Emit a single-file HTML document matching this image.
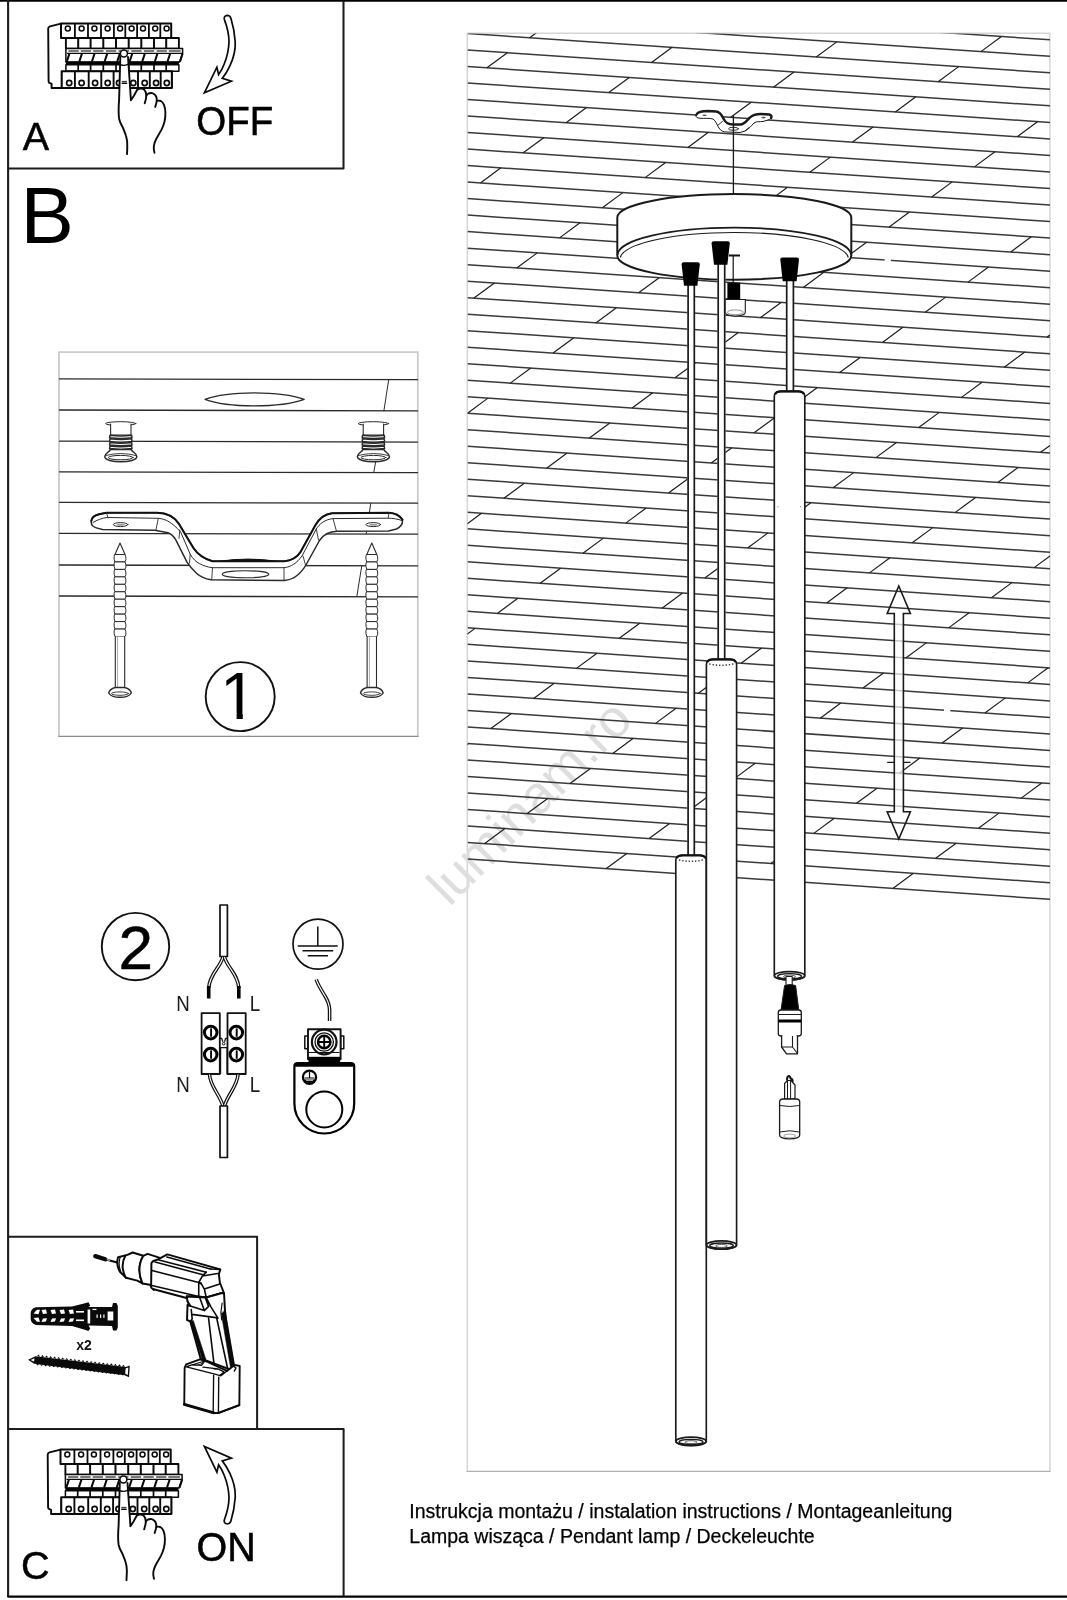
<!DOCTYPE html>
<html lang="pl"><head><meta charset="utf-8"><title>Instrukcja montażu</title>
<style>
html,body{margin:0;padding:0;background:#fff;}
body{width:1067px;height:1600px;overflow:hidden;position:relative;}
svg{position:absolute;left:0;top:0;display:block;}
text{font-family:"Liberation Sans",Arial,sans-serif;fill:#000;}
</style></head><body>
<svg width="1067" height="1600" viewBox="0 0 1067 1600">
<rect width="1067" height="1600" fill="#fff"/>
<g style="will-change:transform">
<g fill="none" stroke="#1d1d1d" stroke-linejoin="round">
<path d="M0 0.8H1067" stroke="#000" stroke-width="1.9"/>
<path d="M8.1 0V1597" stroke-width="2.1"/>
<path d="M7.5 1596.7H1067" stroke="#000" stroke-width="2.3"/>
<path d="M8 168.4H343.5V1" stroke-width="2.05"/>
<path d="M8 1236.8H257.1V1428.9" stroke-width="2"/>
<path d="M8 1428.9H343.6V1596" stroke-width="2.05"/>
</g>
<path d="M59 736.3V352.1H417.8V736.3" fill="none" stroke="#cbcbcb" stroke-width="1.8"/>
<path d="M58.2 736.3H418.6" fill="none" stroke="#8c8c8c" stroke-width="1.2"/>
<path d="M467.3 1471.4V33.3H1049.9V1471.4" fill="none" stroke="#d6d6d6" stroke-width="1.5"/>
<path d="M466.6 1471.4H1050.6" fill="none" stroke="#b0b0b0" stroke-width="1.3"/>
<text transform="translate(449.4 907.6) rotate(-45)" font-size="53" style="fill:#dedede">luminam.ro</text>
<clipPath id="cclip"><rect x="467.5" y="33.5" width="582.5" height="900"/></clipPath>
<g clip-path="url(#cclip)" stroke="#2a2a2a" stroke-width="1.5" fill="none" stroke-linecap="butt">
<path d="M467.5 -16.03L1050 23.21M467.5 0.48L1050 39.74M467.5 16.99L1050 56.27M467.5 33.5L1050 72.8M467.5 50.01L1050 89.33M467.5 66.52L1050 105.86M467.5 83.03L1050 122.39M467.5 99.54L1050 138.92M467.5 116.05L1050 155.45M467.5 132.56L1050 171.98M467.5 149.07L1050 188.51M467.5 165.58L1050 205.04M467.5 182.09L1050 221.57M467.5 198.6L1050 238.1M467.5 215.11L1050 254.63M467.5 231.62L1050 271.16M467.5 248.13L1050 287.69M467.5 264.64L1050 304.22M467.5 281.15L1050 320.75M467.5 297.66L1050 337.28M467.5 314.17L1050 353.81M467.5 330.68L1050 370.34M467.5 347.19L1050 386.87M467.5 363.7L1050 403.4M467.5 380.21L1050 419.93M467.5 396.72L1050 436.46M467.5 413.23L1050 452.99M467.5 429.74L1050 469.52M467.5 446.25L1050 486.05M467.5 462.76L1050 502.58M467.5 479.27L1050 519.11M467.5 495.78L1050 535.64M467.5 512.29L1050 552.17M467.5 528.8L1050 568.7M467.5 545.31L1050 585.23M467.5 561.82L1050 601.76M467.5 578.33L1050 618.29M467.5 594.84L1050 634.82M467.5 611.35L1050 651.35M467.5 627.86L1050 667.88M467.5 644.37L1050 684.41M467.5 660.88L1050 700.94M467.5 677.39L1050 717.47M467.5 693.9L1050 734M467.5 710.41L1050 750.53M467.5 726.92L1050 767.06M467.5 743.43L1050 783.59M467.5 759.94L1050 800.12M467.5 776.45L1050 816.65M467.5 792.96L1050 833.18M467.5 809.47L1050 849.71M467.5 825.98L1050 866.24M467.5 842.49L1050 882.77M467.5 859L1050 899.3" stroke="#3a3a3a" stroke-width="1.5"/>
<path d="M450.58 -17.17L471.08 -32.3M737.14 2.13L757.64 -13M1023.7 21.44L1044.2 6.29M572.47 7.55L592.97 -7.58M859.03 26.87L879.53 11.73M694.36 32.29L714.86 17.15M980.92 51.61L1001.42 36.47M529.68 37.7L550.18 22.57M816.25 57.03L836.75 41.89M651.57 62.44L672.07 47.3M938.13 81.78L958.63 66.64M486.9 67.83L507.4 52.7M773.46 87.18L793.96 72.05M608.79 92.58L629.29 77.45M895.35 111.94L915.85 96.8M444.12 97.96L464.62 82.84M730.67 117.33L751.17 102.2M1017.24 136.7L1037.74 121.56M566 122.71L586.5 107.59M852.56 142.1L873.06 126.96M687.89 147.47L708.39 132.34M974.45 166.87L994.95 151.73M523.22 152.84L543.72 137.72M809.78 172.24L830.28 157.11M645.11 177.61L665.61 162.48M931.66 197.02L952.16 181.89M480.43 182.97L500.93 167.84M766.99 202.39L787.49 187.26M1053.55 221.81L1074.05 206.67M602.32 207.74L622.82 192.62M888.88 227.17L909.38 212.04M724.21 232.53L744.71 217.4M1010.77 251.97L1031.27 236.83M559.53 237.87L580.03 222.74M846.1 257.32L866.6 242.19M681.42 262.66L701.92 247.53M967.98 282.12L988.48 266.98M516.75 267.99L537.25 252.87M803.31 287.46L823.81 272.33M638.64 292.78L659.14 277.66M925.2 312.27L945.7 297.13M473.96 298.1L494.46 282.98M760.52 317.59L781.02 302.46M1047.09 337.08L1067.59 321.95M595.85 322.9L616.35 307.78M882.41 342.41L902.91 327.28M717.74 347.72L738.24 332.59M1004.3 367.23L1024.8 352.1M553.07 353.02L573.57 337.9M839.63 372.54L860.13 357.41M674.96 377.84L695.46 362.72M961.51 397.37L982.01 382.24M510.28 383.13L530.78 368.01M796.84 402.67L817.34 387.54M632.17 407.95L652.67 392.84M918.73 427.5L939.23 412.38M467.5 413.23L488 398.12M754.06 432.79L774.56 417.67M1040.62 452.35L1061.12 437.22M589.38 438.06L609.88 422.95M875.95 457.63L896.45 442.51M711.27 462.91L731.77 447.79M997.83 482.49L1018.33 467.36M546.6 468.17L567.1 453.06M833.16 487.76L853.66 472.63M668.49 493.02L688.99 477.9M955.05 512.62L975.55 497.49M503.81 498.27L524.32 483.16M790.38 517.87L810.88 502.76M625.7 523.12L646.2 508.01M912.26 542.74L932.76 527.62M461.03 528.36L481.53 513.25M747.59 547.99L768.09 532.87M1034.15 567.61L1054.65 552.49M582.92 553.22L603.42 538.11M869.48 572.86L889.98 557.74M704.8 578.09L725.3 562.98M991.37 597.74L1011.87 582.62M540.13 583.31L560.63 568.21M826.69 602.97L847.19 587.85M662.02 608.19L682.52 593.08M948.58 627.86L969.08 612.74M497.35 613.4L517.85 598.3M783.91 633.08L804.41 617.96M619.24 638.28L639.74 623.18M905.79 657.97L926.29 642.86M454.56 643.48L475.06 628.38M741.12 663.18L761.62 648.07M1027.68 682.88L1048.18 667.76M576.45 668.37L596.95 653.27M863.01 688.08L883.51 672.97M698.34 693.27L718.84 678.17M984.9 712.99L1005.4 697.87M533.66 698.45L554.16 683.35M820.23 718.18L840.73 703.07M655.55 723.36L676.05 708.26M942.11 743.1L962.61 727.98M490.88 728.53L511.38 713.43M777.44 748.28L797.94 733.17M612.77 753.45L633.27 738.34M899.33 773.2L919.83 758.09M448.1 758.6L468.6 743.51M734.65 778.37L755.15 763.26M1021.22 798.13L1041.72 783.02M569.98 783.52L590.48 768.42M856.54 803.3L877.04 788.19M691.87 808.45L712.37 793.35M978.43 828.24L998.93 813.13M527.2 813.59L547.7 798.5M813.76 833.39L834.26 818.28M649.09 838.53L669.59 823.43M935.64 858.34L956.14 843.23M484.41 843.66L504.91 828.57M770.97 863.48L791.47 848.37M606.3 868.6L626.8 853.51M892.86 888.43L913.36 873.32" stroke="#1e1e1e" stroke-width="1.2"/>
</g>
<rect x="884.6" y="257.2" width="6.2" height="5" fill="#fff"/><rect x="944" y="707.6" width="6.3" height="5" fill="#fff"/>
<g stroke="#1a1a1a" fill="#fff" stroke-linejoin="round" stroke-linecap="round">
<path d="M696 115.5 C697 111.5 702 111 708 111 L716 111.5 C721 112 722 116 724 119.5 C726 123.5 729 124.5 733 124.5 L741 124.5 C745 124 747 120 750 117.5 C753 114.5 757 114 761 114 L769 114.5 C772 115 772 118 769.5 119.5 L763 121.5 C759 122 757 121 754 123 C751 126 749 129 745 131 L740 132.5 L727 132 C723 132 721 131 719 128 C717 125 716 121 713 119 C710 118 704 118.5 700 118.3 C697 118 695.5 117 696 115.5Z" stroke-width="1"/>
<path d="M696.5 114.5 C698 111.5 702 111 708 111 L716 111.5 C721 112 722 116 724 119.5 C726 123.5 729 124.5 733 124.5 L741 124.5 C745 124 747 120 750 117.5 C753 114.5 757 114 761 114 L769 114.5 C771.5 115 772 116.5 771 118" stroke-width="2.4" fill="none"/>
<ellipse cx="704.5" cy="115.3" rx="2.3" ry="0.8" fill="#555" stroke="none"/>
<ellipse cx="763.5" cy="117.6" rx="2.3" ry="0.8" fill="#555" stroke="none"/>
<ellipse cx="733.5" cy="128.8" rx="5" ry="1.5" fill="none" stroke-width="0.9"/>
<path d="M717.5 125.5L722.5 121.5M745 131L749 127.5" stroke-width="0.9" fill="none"/>
</g>
<path d="M733.4 115.5V195" stroke="#1a1a1a" stroke-width="1.3" fill="none"/>
<path d="M617.3 217.5 A117 23.4 0 0 1 851.3 217.5 L851.3 255.5 A117 24.2 0 0 1 617.3 255.5Z" fill="#fff" stroke="#1a1a1a" stroke-width="2"/>
<path d="M617.6 255 A116.7 27.3 0 0 1 851 255" fill="none" stroke="#1a1a1a" stroke-width="1.7"/>
<path d="M620.3 257.5 A114.2 26.6 0 0 1 848.3 257.5" fill="none" stroke="#1a1a1a" stroke-width="1.1"/>
<path d="M729 255.5H740" stroke="#111" stroke-width="2" fill="none"/>
<path d="M733.2 256V284" stroke="#111" stroke-width="1.2" fill="none"/>
<rect x="727.4" y="282.7" width="12.8" height="17" fill="#000"/>
<path d="M725.3 299.5H745.3V312.5A10 3.6 0 0 1 725.3 312.5Z" fill="#fff" stroke="#1a1a1a" stroke-width="1.1"/>
<ellipse cx="735.3" cy="312.3" rx="8" ry="2.4" fill="none" stroke="#777" stroke-width="0.8"/>
<rect x="687.4" y="284" width="7.6" height="572" fill="#fff" stroke="none"/><path d="M688.1 284V856M694.3 284V856" stroke="#1a1a1a" stroke-width="1.7" fill="none"/>
<rect x="717.5" y="263" width="7.9" height="397" fill="#fff" stroke="none"/><path d="M718.2 263V660M724.7 263V660" stroke="#1a1a1a" stroke-width="1.7" fill="none"/>
<rect x="786" y="280" width="8.1" height="112" fill="#fff" stroke="none"/><path d="M786.7 280V392M793.4 280V392" stroke="#1a1a1a" stroke-width="1.7" fill="none"/>
<path d="M681.6 264.3 Q681.6 262.3 683.6 262.3 L697.8 262.3 Q699.8 262.3 699.8 264.3 L697.4 285.8 L684 285.8Z" fill="#000"/>
<path d="M711.6 243.3 Q711.6 241.3 713.6 241.3 L727.8 241.3 Q729.8 241.3 729.8 243.3 L727.4 264.8 L714 264.8Z" fill="#000"/>
<path d="M780.3 259.6 Q780.3 257.6 782.3 257.6 L797 257.6 Q799 257.6 799 259.6 L796.6 281.2 L782.7 281.2Z" fill="#000"/>
<path d="M675.8 860.3 Q675.8 855.6 681.8 855.2 L700.3 855.2 Q706.3 855.6 706.3 860.3 V1441.3 A15.25 4.3 0 0 1 675.8 1441.3Z" fill="#fff" stroke="#1a1a1a" stroke-width="1.65"/><path d="M676.8 858.3 Q677.3 855.5 682.8 855.3 L699.3 855.3 Q704.8 855.5 705.3 858.3" fill="none" stroke="#111" stroke-width="2.3"/><ellipse cx="691.05" cy="1441.3" rx="15.05" ry="4.1" fill="#fff" stroke="#1a1a1a" stroke-width="1.7"/><ellipse cx="691.05" cy="1441.9" rx="12.05" ry="2.6" fill="none" stroke="#1a1a1a" stroke-width="1.3"/><ellipse cx="691.05" cy="1442.2" rx="5.95" ry="1.5" fill="none" stroke="#555" stroke-width="1"/>
<path d="M706.4 664.4 Q706.4 659.7 712.4 659.3 L730.6 659.3 Q736.6 659.7 736.6 664.4 V1245 A15.1 4.3 0 0 1 706.4 1245Z" fill="#fff" stroke="#1a1a1a" stroke-width="1.65"/><path d="M707.4 662.4 Q707.9 659.6 713.4 659.4 L729.6 659.4 Q735.1 659.6 735.6 662.4" fill="none" stroke="#111" stroke-width="2.3"/><ellipse cx="721.5" cy="1245" rx="14.9" ry="4.1" fill="#fff" stroke="#1a1a1a" stroke-width="1.7"/><ellipse cx="721.5" cy="1245.6" rx="11.9" ry="2.6" fill="none" stroke="#1a1a1a" stroke-width="1.3"/><ellipse cx="721.5" cy="1245.9" rx="5.8" ry="1.5" fill="none" stroke="#555" stroke-width="1"/>
<path d="M774.3 396.4 Q774.3 391.7 780.3 391.3 L798.8 391.3 Q804.8 391.7 804.8 396.4 V975.7 A15.25 4.3 0 0 1 774.3 975.7Z" fill="#fff" stroke="#1a1a1a" stroke-width="1.65"/><path d="M775.3 394.4 Q775.8 391.6 781.3 391.4 L797.8 391.4 Q803.3 391.6 803.8 394.4" fill="none" stroke="#111" stroke-width="2.3"/><ellipse cx="789.55" cy="975.7" rx="15.05" ry="4.1" fill="#fff" stroke="#1a1a1a" stroke-width="1.7"/><ellipse cx="789.55" cy="976.3" rx="12.05" ry="2.6" fill="none" stroke="#1a1a1a" stroke-width="1.3"/><ellipse cx="789.55" cy="976.6" rx="5.95" ry="1.5" fill="none" stroke="#555" stroke-width="1"/>
<circle cx="709.93" cy="664.08" r="0.8" fill="#222"/><circle cx="713.19" cy="664.68" r="0.8" fill="#222"/><circle cx="716.46" cy="665.08" r="0.8" fill="#222"/><circle cx="719.72" cy="665.28" r="0.8" fill="#222"/><circle cx="722.98" cy="665.28" r="0.8" fill="#222"/><circle cx="726.24" cy="665.08" r="0.8" fill="#222"/><circle cx="729.51" cy="664.68" r="0.8" fill="#222"/><circle cx="732.77" cy="664.08" r="0.8" fill="#222"/>
<circle cx="679.7" cy="860.08" r="0.8" fill="#222"/><circle cx="682.9" cy="860.68" r="0.8" fill="#222"/><circle cx="686.1" cy="861.08" r="0.8" fill="#222"/><circle cx="689.3" cy="861.28" r="0.8" fill="#222"/><circle cx="692.5" cy="861.28" r="0.8" fill="#222"/><circle cx="695.7" cy="861.08" r="0.8" fill="#222"/><circle cx="698.9" cy="860.68" r="0.8" fill="#222"/><circle cx="702.1" cy="860.08" r="0.8" fill="#222"/>
<circle cx="778" cy="506.8" r="0.5" fill="#444"/><circle cx="800.5" cy="506.8" r="0.5" fill="#444"/>
<g stroke="#1a1a1a" stroke-linejoin="round">
<rect x="786" y="976.5" width="6.2" height="10" fill="#fff" stroke-width="1.1"/>
<path d="M784.6 985.5 Q790 983.5 795.6 985.5 L798.8 1010 H781 Z" fill="#000" stroke-width="1"/>
<path d="M778.3 1012.5 Q778.3 1010 781 1010 H798.6 Q801.3 1010 801.3 1012.5 V1033.5 Q801.3 1036 798.5 1036 H781 Q778.3 1036 778.3 1033.5Z" fill="#fff" stroke-width="1.3"/>
<path d="M778.5 1014.5H801" stroke-width="1" fill="none"/>
<path d="M778.3 1021H801.3" stroke="#000" stroke-width="3" fill="none"/>
<path d="M781.6 1035.5 V1047 L786.5 1053.8 H797.5 V1035.5" fill="#fff" stroke-width="1.3"/>
<path d="M781.6 1047 H792.5 L797.5 1053.5 M792.5 1047 V1036" fill="none" stroke-width="1.1"/>
<path d="M783 1036V1033H796V1036" fill="#fff" stroke="none"/>
</g>
<g stroke="#1a1a1a" stroke-linejoin="round" fill="#fff">
<path d="M784.6 1099 V1083.5 L787.5 1080.5 H791 L795 1085 V1099Z" stroke-width="1.2"/>
<path d="M790.6 1081V1099M787.5 1080.5V1099" stroke-width="1" fill="none"/>
<path d="M787 1080.5 Q787 1075.8 789 1076 Q790.5 1076.5 790.5 1078.5 Q793 1079 792.5 1082" stroke="#111" stroke-width="2" fill="none"/>
<path d="M779.6 1102 Q779.6 1099 783 1099 H796.3 Q799.7 1099 799.7 1102 V1135 Q799.7 1138.8 789.6 1138.8 Q779.6 1138.8 779.6 1135Z" stroke-width="1.3"/>
<path d="M780 1105.5 Q789.6 1107.5 799.4 1105.5 M780 1132 Q789.6 1129.5 799.4 1132" stroke-width="1" fill="none"/>
<ellipse cx="789.6" cy="1136" rx="6" ry="1.8" fill="none" stroke="#888" stroke-width="0.8"/>
</g>
<rect x="894.3" y="613.5" width="9.1" height="198.3" fill="#fff" fill-opacity="0.72"/>
<path d="M898.8 586 L910.4 613.5 H903.4 V811.8 H910.4 L898.8 839 L887.2 811.8 H894.3 V613.5 H887.2Z" fill="none" stroke="#1a1a1a" stroke-width="1.6" stroke-linejoin="miter"/>
<path d="M887.2 762.4H894M903.6 762.4H910.5" stroke="#1a1a1a" stroke-width="1.3" fill="none"/>
<g fill="none" stroke="#2a2a2a" stroke-width="1.25" stroke-linecap="round" stroke-linejoin="round">
<path d="M59.5 378.8L417.5 379.7M59.5 410L417.5 410.9M59.5 441.2L417.5 442.1M59.5 471.8L417.5 472.7M59.5 502.3L417.5 503.2M59.5 533.3L417.5 534.2M59.5 565L417.5 565.9M59.5 596L417.5 596.9" stroke-width="1.3"/>
<path d="M388.7 379.7L383.9 410.8M379.3 441.7L373.8 472.2M370.8 503.2L366.2 533.8M361.8 565.6L356.8 596.6" stroke-width="1"/>
<path d="M205 399.4 C218 394.5 236 392.8 254 392.8 C272 392.8 291 394.5 304.2 399.4 C291 404.3 272 405.9 254 405.9 C236 405.9 218 404.3 205 399.4Z" fill="#fff" stroke-width="1.2"/>
<ellipse cx="120.8" cy="423.6" rx="15.2" ry="1.9" fill="#fff" stroke-width="1"/><path d="M110.6 424 V435 H131 V424" fill="#fff" stroke-width="1.1"/><path d="M110 435.2 Q120.8 436.8 131.6 435.2 L132 437.8 Q120.8 439.4 109.6 437.8Z" fill="#fff" stroke-width="1.5"/><path d="M110 438.8 Q120.8 440.4 131.6 438.8 L132 441.4 Q120.8 443 109.6 441.4Z" fill="#fff" stroke-width="1.5"/><path d="M110 442.4 Q120.8 444 131.6 442.4 L132 445 Q120.8 446.6 109.6 445Z" fill="#fff" stroke-width="1.5"/><path d="M110 446 Q120.8 447.6 131.6 446 L132 448.6 Q120.8 450.2 109.6 448.6Z" fill="#fff" stroke-width="1.5"/><path d="M110.3 449.5 C109.8 452 104.8 453 104.8 456.5 C104.8 460 112.8 461.8 120.8 461.8 C128.8 461.8 136.8 460 136.8 456.5 C136.8 453 131.8 452 131.3 449.5Z" fill="#fff" stroke-width="1.5"/><ellipse cx="120.8" cy="457.6" rx="12.5" ry="2.2" stroke-width="1"/><path d="M105.8 455.5 Q120.8 451.5 135.8 455.5" stroke-width="0.9"/>
<ellipse cx="373.4" cy="423.6" rx="15.2" ry="1.9" fill="#fff" stroke-width="1"/><path d="M363.2 424 V435 H383.6 V424" fill="#fff" stroke-width="1.1"/><path d="M362.6 435.2 Q373.4 436.8 384.2 435.2 L384.6 437.8 Q373.4 439.4 362.2 437.8Z" fill="#fff" stroke-width="1.5"/><path d="M362.6 438.8 Q373.4 440.4 384.2 438.8 L384.6 441.4 Q373.4 443 362.2 441.4Z" fill="#fff" stroke-width="1.5"/><path d="M362.6 442.4 Q373.4 444 384.2 442.4 L384.6 445 Q373.4 446.6 362.2 445Z" fill="#fff" stroke-width="1.5"/><path d="M362.6 446 Q373.4 447.6 384.2 446 L384.6 448.6 Q373.4 450.2 362.2 448.6Z" fill="#fff" stroke-width="1.5"/><path d="M362.9 449.5 C362.4 452 357.4 453 357.4 456.5 C357.4 460 365.4 461.8 373.4 461.8 C381.4 461.8 389.4 460 389.4 456.5 C389.4 453 384.4 452 383.9 449.5Z" fill="#fff" stroke-width="1.5"/><ellipse cx="373.4" cy="457.6" rx="12.5" ry="2.2" stroke-width="1"/><path d="M358.4 455.5 Q373.4 451.5 388.4 455.5" stroke-width="0.9"/>
<path d="M91.3 521 C91.5 517.5 95 515.2 99 514.2 L106.5 512.7 L157 512.7 C166 512.9 174 516 179 523.9 L193.3 547.8 C197 553.5 203 558.5 212.5 561.3 L284 561.3 C292 560.5 297 557.5 300.5 552 L315.5 525 C319.5 518 325 514 332 513.2 L389 512.8 C395 513.2 399.5 515.5 402.4 519.5 C403 523.5 400.5 527 396.5 529 L388.5 531 L337 531.3 C329 531.6 323.5 534.5 319.5 540.5 L306.5 564 C301.5 573 295 579.5 284.5 580.5 L211 579.8 C204.5 578.8 200 576.5 196.5 573.3 C192.5 569.5 189.5 566 187 562.1 L175.8 539.8 C173.5 536 171 533.5 167.9 532.7 L155 530.3 L102.5 529.5 C97.5 528.5 94 527 92.2 525.5 C91.3 524 91.1 522.5 91.3 521Z" fill="#fff" stroke-width="1.5"/>
<path d="M91.3 521 C91.5 517.5 95 515.2 99 514.2 L106.5 512.7 L157 512.7 C166 512.9 174 516 179 523.9 L193.3 547.8 C197 553.5 203 558.5 212.5 561.3 L284 561.3 C292 560.5 297 557.5 300.5 552 L315.5 525 C319.5 518 325 514 332 513.2 L389 512.8 C395 513.2 399.5 515.5 402.4 519.5" stroke="#111" stroke-width="2"/>
<path d="M93 522.5 C97 520 102 518 107.3 517.5 L158.3 518.3 C166 519 172 522.5 180.6 531.9 L190.2 554.2 C193 559 196 562 199.7 563.7 C203 565.5 207 567 212.5 567.7 L284 567.7 C291 567 297 563 302 556 L316 529.5 C319.5 523.5 325 519.5 333 518.6 L388 518.2 C393 518.3 398 519 401.8 520.5" stroke-width="1"/>
<path d="M106.5 512.7L108 518M158.3 518.3L155.9 530.3M179.8 530L179 538.5M190.2 554.2L189.5 563M212.5 567.7L211.7 579.7M284 567.7V580.4M303 556L305.5 565M316.3 529L318.5 540M333 518.6L336.5 531.3M389 512.8L388.2 518" stroke-width="0.9"/>
<ellipse cx="120.6" cy="524.6" rx="7.3" ry="2" fill="#fff" stroke-width="1"/>
<ellipse cx="373.3" cy="524.6" rx="7.3" ry="2" fill="#fff" stroke-width="1"/>
<ellipse cx="120.6" cy="524.8" rx="4" ry="1" fill="#999" stroke="none"/>
<ellipse cx="373.3" cy="524.8" rx="4" ry="1" fill="#999" stroke="none"/>
<path d="M219 561.3 Q248 556.8 277 561.3Z" fill="#111" stroke="#111" stroke-width="1"/>
<ellipse cx="245.5" cy="574.3" rx="23.2" ry="3.5" fill="#fff" stroke-width="1.1"/>
<path d="M120 543 L125 554.5 L115 554.5Z" fill="#fff" stroke-width="1.1"/><path d="M115 554.5 L125 554.5 Q126.2 557.11 125.9 559.72 L125 561.95 L115 561.95 Q113.8 559.35 114.1 556.74Z" fill="#fff" stroke-width="1"/><path d="M115 561.95 L125 561.95 Q126.2 564.56 125.9 567.17 L125 569.41 L115 569.41 Q113.8 566.8 114.1 564.19Z" fill="#fff" stroke-width="1"/><path d="M115 569.41 L125 569.41 Q126.2 572.02 125.9 574.63 L125 576.86 L115 576.86 Q113.8 574.25 114.1 571.65Z" fill="#fff" stroke-width="1"/><path d="M115 576.86 L125 576.86 Q126.2 579.47 125.9 582.08 L125 584.32 L115 584.32 Q113.8 581.71 114.1 579.1Z" fill="#fff" stroke-width="1"/><path d="M115 584.32 L125 584.32 Q126.2 586.93 125.9 589.54 L125 591.77 L115 591.77 Q113.8 589.16 114.1 586.55Z" fill="#fff" stroke-width="1"/><path d="M115 591.77 L125 591.77 Q126.2 594.38 125.9 596.99 L125 599.23 L115 599.23 Q113.8 596.62 114.1 594.01Z" fill="#fff" stroke-width="1"/><path d="M115 599.23 L125 599.23 Q126.2 601.84 125.9 604.45 L125 606.68 L115 606.68 Q113.8 604.07 114.1 601.46Z" fill="#fff" stroke-width="1"/><path d="M115 606.68 L125 606.68 Q126.2 609.29 125.9 611.9 L125 614.14 L115 614.14 Q113.8 611.53 114.1 608.92Z" fill="#fff" stroke-width="1"/><path d="M115 614.14 L125 614.14 Q126.2 616.75 125.9 619.35 L125 621.59 L115 621.59 Q113.8 618.98 114.1 616.37Z" fill="#fff" stroke-width="1"/><path d="M115 621.59 L125 621.59 Q126.2 624.2 125.9 626.81 L125 629.05 L115 629.05 Q113.8 626.44 114.1 623.83Z" fill="#fff" stroke-width="1"/><path d="M115 629.05 L125 629.05 Q126.2 631.65 125.9 634.26 L125 636.5 L115 636.5 Q113.8 633.89 114.1 631.28Z" fill="#fff" stroke-width="1"/><path d="M115.3 636.5 V688 H124.7 V636.5" fill="#fff" stroke-width="1.1"/><path d="M117.6 637V687" stroke-width="0.7" stroke="#888"/><path d="M115.3 687.5 Q109.5 689 108.7 693 Q111 697.3 120 697.3 Q129 697.3 131.3 693 Q130.5 689 124.7 687.5Z" fill="#fff" stroke-width="1.4"/><ellipse cx="120" cy="693.6" rx="8.5" ry="1.7" stroke-width="0.9"/>
<path d="M371.8 543 L376.8 554.5 L366.8 554.5Z" fill="#fff" stroke-width="1.1"/><path d="M366.8 554.5 L376.8 554.5 Q378 557.11 377.7 559.72 L376.8 561.95 L366.8 561.95 Q365.6 559.35 365.9 556.74Z" fill="#fff" stroke-width="1"/><path d="M366.8 561.95 L376.8 561.95 Q378 564.56 377.7 567.17 L376.8 569.41 L366.8 569.41 Q365.6 566.8 365.9 564.19Z" fill="#fff" stroke-width="1"/><path d="M366.8 569.41 L376.8 569.41 Q378 572.02 377.7 574.63 L376.8 576.86 L366.8 576.86 Q365.6 574.25 365.9 571.65Z" fill="#fff" stroke-width="1"/><path d="M366.8 576.86 L376.8 576.86 Q378 579.47 377.7 582.08 L376.8 584.32 L366.8 584.32 Q365.6 581.71 365.9 579.1Z" fill="#fff" stroke-width="1"/><path d="M366.8 584.32 L376.8 584.32 Q378 586.93 377.7 589.54 L376.8 591.77 L366.8 591.77 Q365.6 589.16 365.9 586.55Z" fill="#fff" stroke-width="1"/><path d="M366.8 591.77 L376.8 591.77 Q378 594.38 377.7 596.99 L376.8 599.23 L366.8 599.23 Q365.6 596.62 365.9 594.01Z" fill="#fff" stroke-width="1"/><path d="M366.8 599.23 L376.8 599.23 Q378 601.84 377.7 604.45 L376.8 606.68 L366.8 606.68 Q365.6 604.07 365.9 601.46Z" fill="#fff" stroke-width="1"/><path d="M366.8 606.68 L376.8 606.68 Q378 609.29 377.7 611.9 L376.8 614.14 L366.8 614.14 Q365.6 611.53 365.9 608.92Z" fill="#fff" stroke-width="1"/><path d="M366.8 614.14 L376.8 614.14 Q378 616.75 377.7 619.35 L376.8 621.59 L366.8 621.59 Q365.6 618.98 365.9 616.37Z" fill="#fff" stroke-width="1"/><path d="M366.8 621.59 L376.8 621.59 Q378 624.2 377.7 626.81 L376.8 629.05 L366.8 629.05 Q365.6 626.44 365.9 623.83Z" fill="#fff" stroke-width="1"/><path d="M366.8 629.05 L376.8 629.05 Q378 631.65 377.7 634.26 L376.8 636.5 L366.8 636.5 Q365.6 633.89 365.9 631.28Z" fill="#fff" stroke-width="1"/><path d="M367.1 636.5 V688 H376.5 V636.5" fill="#fff" stroke-width="1.1"/><path d="M369.4 637V687" stroke-width="0.7" stroke="#888"/><path d="M367.1 687.5 Q361.3 689 360.5 693 Q362.8 697.3 371.8 697.3 Q380.8 697.3 383.1 693 Q382.3 689 376.5 687.5Z" fill="#fff" stroke-width="1.4"/><ellipse cx="371.8" cy="693.6" rx="8.5" ry="1.7" stroke-width="0.9"/>
<circle cx="240.2" cy="696.6" r="34.5" fill="#fff" stroke="#111" stroke-width="1.9"/>
</g>
<clipPath id="oneclip"><path d="M200 655H280V713.1H242.8V722H236.6V713.1H200Z"/></clipPath>
<text x="238.3" y="718.9" font-size="66" text-anchor="middle" clip-path="url(#oneclip)">1</text>
<g fill="none" stroke="#111" stroke-width="1.4" stroke-linejoin="round">
<circle cx="135.5" cy="946.6" r="33.7" fill="#fff" stroke-width="1.9"/>
<rect x="220" y="905" width="7.4" height="51.5" fill="#fff" stroke-width="1.7"/>
<path d="M223 957 C220 968 209.5 974 208.7 988" stroke="#111" stroke-width="3.6"/><path d="M223 957 C220 968 209.5 974 208.7 988" stroke="#fff" stroke-width="1.1"/>
<path d="M224.4 957 C227.5 968 238 974 238.8 988" stroke="#111" stroke-width="3.6"/><path d="M224.4 957 C227.5 968 238 974 238.8 988" stroke="#fff" stroke-width="1.1"/>
<path d="M208.7 986V998.6M238.8 986V998.6" stroke="#000" stroke-width="3.6"/>
<rect x="201.6" y="1013.2" width="18.2" height="60.8" fill="#fff" stroke-width="1.8"/>
<rect x="227.5" y="1013.2" width="18.2" height="60.8" fill="#fff" stroke-width="1.8"/>
<path d="M219.8 1038.3H221.6L222.9 1041.8M227.5 1038.3H225.7L224.5 1041.8" stroke-width="1.2"/>
<path d="M220.5 1074V1047.6H227V1074" fill="#fff" stroke-width="1.4"/>
<circle cx="223.7" cy="1043.7" r="1.3" stroke-width="1"/>
<circle cx="210.7" cy="1032.6" r="6.3" fill="#fff" stroke="#000" stroke-width="3"/>
<path d="M211.1 1028.4V1036.8" stroke="#000" stroke-width="1.9"/>
<circle cx="210.7" cy="1054.6" r="6.3" fill="#fff" stroke="#000" stroke-width="3"/>
<path d="M211.1 1050.4V1058.8" stroke="#000" stroke-width="1.9"/>
<circle cx="236.3" cy="1032.6" r="6.3" fill="#fff" stroke="#000" stroke-width="3"/>
<path d="M236.7 1028.4V1036.8" stroke="#000" stroke-width="1.9"/>
<circle cx="236.3" cy="1054.6" r="6.3" fill="#fff" stroke="#000" stroke-width="3"/>
<path d="M236.7 1050.4V1058.8" stroke="#000" stroke-width="1.9"/>
<path d="M209.5 1074.5 C210 1086 219.5 1094 223 1106" stroke="#111" stroke-width="3.6"/><path d="M209.5 1074.5 C210 1086 219.5 1094 223 1106" stroke="#fff" stroke-width="1.1"/>
<path d="M238 1074.5 C237.5 1086 228 1094 224.4 1106" stroke="#111" stroke-width="3.6"/><path d="M238 1074.5 C237.5 1086 228 1094 224.4 1106" stroke="#fff" stroke-width="1.1"/>
<rect x="220" y="1106" width="7.4" height="51.5" fill="#fff" stroke-width="1.7"/>
<circle cx="318" cy="944.1" r="25" fill="#fff" stroke-width="1.7"/>
<path d="M317.8 926.5V946M297.7 946H337.7M302.5 950.8H333.2M307.7 955.7H328" stroke-width="1.5"/>
<path d="M316.2 979.5 C318.5 986 322 991 325 996 C328 1001 329.5 1005 329.6 1010 L329.6 1021" stroke="#111" stroke-width="3.6"/><path d="M316.2 979.5 C318.5 986 322 991 325 996 C328 1001 329.5 1005 329.6 1010 L329.6 1021" stroke="#fff" stroke-width="1.1"/>
<rect x="304.8" y="1036" width="3.2" height="12.8" fill="#fff" stroke-width="1.5"/>
<rect x="340.6" y="1036" width="3.2" height="12.8" fill="#fff" stroke-width="1.5"/>
<rect x="308" y="1029.3" width="32.6" height="30" fill="#fff" stroke-width="1.9"/>
<circle cx="324.2" cy="1042" r="12.3" fill="#fff" stroke-width="2.2"/>
<circle cx="324.2" cy="1042" r="9.2" stroke-width="1.3"/>
<circle cx="324.2" cy="1042" r="6.2" stroke="#000" stroke-width="2.4"/>
<path d="M324.2 1035V1049M317.2 1042H331.2" stroke="#000" stroke-width="1.9"/>
<path d="M309 1052.5H339.5" stroke-width="1"/>
<rect x="308.5" y="1056.8" width="31.6" height="6" fill="#000" stroke="none"/>
<path d="M294.4 1066 Q294.4 1063 298 1063 H350.5 Q354.2 1063 354.2 1066 V1103.6 A29.9 29.9 0 0 1 294.4 1103.6Z" fill="#fff" stroke="#000" stroke-width="2.2"/>
<path d="M295 1065H353.6" stroke="#000" stroke-width="3.6"/>
<circle cx="324.3" cy="1109.4" r="18" fill="#fff" stroke="#000" stroke-width="2"/>
<circle cx="309.5" cy="1077.2" r="6.6" fill="#fff" stroke="#000" stroke-width="2.2"/>
<path d="M309.5 1072V1078M304.5 1078H314.5" stroke="#000" stroke-width="1.2"/>
<path d="M304.3 1079.5 A5.6 5.6 0 0 0 314.7 1079.5Z" fill="#000" stroke="none"/>
<path d="M306 1080.3H313" stroke="#fff" stroke-width="0.8"/>
</g>
<text x="135.7" y="968.8" font-size="62" text-anchor="middle" stroke="#000" stroke-width="0.5">2</text>
<text transform="translate(176.2 1010.8) scale(0.83 1)" font-size="22.6" style="fill:#1c1c1c">N</text>
<text transform="translate(249.7 1010.8) scale(0.83 1)" font-size="22.6" style="fill:#1c1c1c">L</text>
<text transform="translate(176.2 1092.2) scale(0.83 1)" font-size="22.6" style="fill:#1c1c1c">N</text>
<text transform="translate(249.7 1092.2) scale(0.83 1)" font-size="22.6" style="fill:#1c1c1c">L</text>
<g fill="#fff" stroke="#0a0a0a" stroke-linejoin="round" stroke-linecap="butt">
<path d="M61 23.6 L50 26.3 Q48.2 26.8 48.2 28.5 L48.6 81.5 Q48.6 83 50.3 83.3 L51.6 83.8 V88 H62" stroke-width="1.9"/>
<rect x="61" y="23.4" width="110.2" height="14.6" stroke-width="2"/>
<path d="M74.9 23.4V38M88 23.4V38M101 23.4V38M113.9 23.4V38M125.3 23.4V38M137.1 23.4V38M148.9 23.4V38M160.3 23.4V38" stroke-width="1.8"/>
<circle cx="67.8" cy="28.6" r="2.5" stroke-width="1.5"/>
<circle cx="81.6" cy="28.6" r="2.5" stroke-width="1.5"/>
<circle cx="94.4" cy="28.6" r="2.5" stroke-width="1.5"/>
<circle cx="107.6" cy="28.6" r="2.5" stroke-width="1.5"/>
<circle cx="120.1" cy="28.6" r="2.5" stroke-width="1.5"/>
<circle cx="131.6" cy="28.6" r="2.5" stroke-width="1.5"/>
<circle cx="143" cy="28.6" r="2.5" stroke-width="1.5"/>
<circle cx="155.2" cy="28.6" r="2.5" stroke-width="1.5"/>
<circle cx="166.6" cy="28.6" r="2.5" stroke-width="1.5"/>
<rect x="65.9" y="38" width="113" height="10.6" stroke-width="1.9"/>
<path d="M78.2 38V48.6M90.6 38V48.6M103.3 38V48.6M116 38V48.6M128.7 38V48.6M141.3 38V48.6M154 38V48.6M166.2 38V48.6" stroke-width="2"/>
<path d="M65.9 48.6H182.6V53 L179.6 62 H65.9Z" stroke-width="1.5"/>
<rect x="68.5" y="50" width="10.3" height="2" fill="#777" stroke="none"/>
<rect x="80.8" y="50" width="10.3" height="2" fill="#777" stroke="none"/>
<rect x="93.2" y="50" width="10.3" height="2" fill="#777" stroke="none"/>
<rect x="105.9" y="50" width="10.3" height="2" fill="#777" stroke="none"/>
<rect x="118.6" y="50" width="10.3" height="2" fill="#777" stroke="none"/>
<rect x="131.3" y="50" width="10.3" height="2" fill="#777" stroke="none"/>
<rect x="143.9" y="50" width="10.3" height="2" fill="#777" stroke="none"/>
<rect x="156.6" y="50" width="10.3" height="2" fill="#777" stroke="none"/>
<rect x="168.8" y="50" width="11.8" height="2" fill="#777" stroke="none"/>
<path d="M66.8 61.6L69.5 53.4M79.3 61.6L82 53.4M91.9 61.6L94.6 53.4M104.6 61.6L107.3 53.4M117.2 61.6L119.9 53.4M129.6 61.6L132.3 53.4M142.2 61.6L144.9 53.4M154.8 61.6L157.5 53.4M167.5 61.6L170.2 53.4M180 61.6L182.7 53.4" stroke-width="2"/>
<path d="M67 53.4H182.4" stroke-width="1.2"/>
<rect x="65.9" y="61.6" width="113" height="3.3" fill="#000" stroke="none"/>
<rect x="65.9" y="64.8" width="113" height="6.4" stroke-width="1.5"/>
<path d="M78.2 64.8V71.2M90.6 64.8V71.2M103.3 64.8V71.2M116 64.8V71.2M128.7 64.8V71.2M141.3 64.8V71.2M154 64.8V71.2M166.2 64.8V71.2" stroke-width="1.7"/>
<rect x="61.7" y="71.2" width="110.2" height="16.8" stroke-width="2.1"/>
<path d="M74.9 71.2V88M88.7 71.2V88M101.3 71.2V88M113.6 71.2V88M125.3 71.2V88M138 71.2V88M149.8 71.2V88M160.7 71.2V88" stroke-width="1.9"/>
<circle cx="69.2" cy="83" r="2.6" stroke-width="1.65"/>
<circle cx="81.6" cy="83" r="2.6" stroke-width="1.65"/>
<circle cx="95.1" cy="83" r="2.6" stroke-width="1.65"/>
<circle cx="107.7" cy="83" r="2.6" stroke-width="1.65"/>
<circle cx="119" cy="83" r="2.6" stroke-width="1.65"/>
<circle cx="133.3" cy="83" r="2.6" stroke-width="1.65"/>
<circle cx="144.7" cy="83" r="2.6" stroke-width="1.65"/>
<circle cx="156.1" cy="83" r="2.6" stroke-width="1.65"/>
<circle cx="166.8" cy="83" r="2.6" stroke-width="1.65"/>
</g>
<g fill="#fff" stroke="#0a0a0a" stroke-width="1.9" stroke-linejoin="round" stroke-linecap="round">
<path d="M120.3 56 L119.1 99.7 C118.6 106 118.3 113 119.1 118.7 C120 123 121.5 125 122.7 127.2 C124 130.5 125.2 133 126 135.8 C127 139 127.6 143 127.3 147 L127 154.1 L154.5 152.8 C153.6 149.5 153.4 147.5 153.9 145.6 C154.5 143 155.2 141 156.2 139 L161.4 129.9 C163 127 164 124.5 164.4 122 C165.3 118.5 165.6 116 165.4 112.8 C165.3 109.5 164.8 106.5 164 104.9 C163 102.5 161.8 101.3 160.8 101 L157.2 100.7 C157 98 156.5 96.7 155.5 95.4 C154.5 94 153.4 93.4 152.2 93.1 L148.6 93.5 L146.3 95.7 C146 92.5 145.3 91 144.4 89.8 C143.3 88.7 142 88.3 140.4 88.5 C139 88.8 138 89.2 137.2 89.8 L130.9 100.3 L128 56Z" stroke="none"/>
<path d="M120.3 57 L119.1 99.7 C118.6 106 118.3 113 119.1 118.7 C120 123 121.5 125 122.7 127.2 C124 130.5 125.2 133 126 135.8 C127 139 127.6 143 127.3 147 L127 154.1" fill="none"/>
<path d="M128 57 L130.4 92 L130.9 100.3 L133.9 95.7 L137.2 89.8 C138 89.2 139 88.6 140.4 88.5 C142 88.4 143.3 88.7 144.4 89.8 C145.5 91 146.1 93 146.3 95.1 C146.4 98 145.6 100.5 144.7 103.3" fill="none"/>
<path d="M146.3 95.7 C147 94.5 147.6 94 148.6 93.5 C149.8 93 151 92.9 152.2 93.1 C153.4 93.4 154.6 94.2 155.5 95.4 C156.4 96.6 156.8 98 156.8 99.7 C156.8 102 156 104.5 155.2 106.9" fill="none"/>
<path d="M157.2 100.7 C158.5 100.5 159.8 100.6 160.8 101 C162.2 101.8 163.2 103 164 104.9 C164.9 107 165.3 109.8 165.4 112.8 C165.5 116 165.2 119 164.4 122 C163.7 124.8 162.7 127.3 161.4 129.9 L156.2 139 C155.2 141 154.4 143 153.9 145.6 C153.5 148 153.8 150.5 154.5 152.8" fill="none"/>
<circle cx="123.9" cy="53.6" r="3.5" stroke-width="1.5"/>
<path d="M120.6 64.6 Q124 66.4 127.8 64.4" fill="none" stroke-width="1.3"/>
<path d="M122.2 81.4H126.6" fill="none" stroke-width="0.9"/><path d="M122.2 83.3H126.6" fill="none" stroke-width="1.5"/>
</g>
<path d="M224.4 19.6 C223.6 17 225.2 15.4 227.4 15.3 C229.4 15.3 230.4 16.6 230.9 18.3 C232.8 24.5 234.6 33 235.2 41.7 C235.6 49 233.5 58 230 65.6 C227.8 70.5 225 75 222.3 78.4 L231.4 81.2 L204.4 92.9 L216.9 67.2 L218.6 74.6 C220.8 71.5 222.8 68 224.2 64 C227 57 228.8 49 229 41.7 C229 35 227.2 27 224.4 19.6Z" fill="#fff" stroke="#0a0a0a" stroke-width="1.7" stroke-linejoin="miter"/>
<g transform="translate(-0.5 1426)">
<g fill="#fff" stroke="#0a0a0a" stroke-linejoin="round" stroke-linecap="butt">
<path d="M61 23.6 L50 26.3 Q48.2 26.8 48.2 28.5 L48.6 81.5 Q48.6 83 50.3 83.3 L51.6 83.8 V88 H62" stroke-width="1.9"/>
<rect x="61" y="23.4" width="110.2" height="14.6" stroke-width="2"/>
<path d="M74.9 23.4V38M88 23.4V38M101 23.4V38M113.9 23.4V38M125.3 23.4V38M137.1 23.4V38M148.9 23.4V38M160.3 23.4V38" stroke-width="1.8"/>
<circle cx="67.8" cy="28.6" r="2.5" stroke-width="1.5"/>
<circle cx="81.6" cy="28.6" r="2.5" stroke-width="1.5"/>
<circle cx="94.4" cy="28.6" r="2.5" stroke-width="1.5"/>
<circle cx="107.6" cy="28.6" r="2.5" stroke-width="1.5"/>
<circle cx="120.1" cy="28.6" r="2.5" stroke-width="1.5"/>
<circle cx="131.6" cy="28.6" r="2.5" stroke-width="1.5"/>
<circle cx="143" cy="28.6" r="2.5" stroke-width="1.5"/>
<circle cx="155.2" cy="28.6" r="2.5" stroke-width="1.5"/>
<circle cx="166.6" cy="28.6" r="2.5" stroke-width="1.5"/>
<rect x="65.9" y="38" width="113" height="10.6" stroke-width="1.9"/>
<path d="M78.2 38V48.6M90.6 38V48.6M103.3 38V48.6M116 38V48.6M128.7 38V48.6M141.3 38V48.6M154 38V48.6M166.2 38V48.6" stroke-width="2"/>
<path d="M65.9 48.6H182.6V53 L179.6 62 H65.9Z" stroke-width="1.5"/>
<rect x="68.5" y="50" width="10.3" height="2" fill="#777" stroke="none"/>
<rect x="80.8" y="50" width="10.3" height="2" fill="#777" stroke="none"/>
<rect x="93.2" y="50" width="10.3" height="2" fill="#777" stroke="none"/>
<rect x="105.9" y="50" width="10.3" height="2" fill="#777" stroke="none"/>
<rect x="118.6" y="50" width="10.3" height="2" fill="#777" stroke="none"/>
<rect x="131.3" y="50" width="10.3" height="2" fill="#777" stroke="none"/>
<rect x="143.9" y="50" width="10.3" height="2" fill="#777" stroke="none"/>
<rect x="156.6" y="50" width="10.3" height="2" fill="#777" stroke="none"/>
<rect x="168.8" y="50" width="11.8" height="2" fill="#777" stroke="none"/>
<path d="M66.8 61.6L69.5 53.4M79.3 61.6L82 53.4M91.9 61.6L94.6 53.4M104.6 61.6L107.3 53.4M117.2 61.6L119.9 53.4M129.6 61.6L132.3 53.4M142.2 61.6L144.9 53.4M154.8 61.6L157.5 53.4M167.5 61.6L170.2 53.4M180 61.6L182.7 53.4" stroke-width="2"/>
<path d="M67 53.4H182.4" stroke-width="1.2"/>
<rect x="65.9" y="61.6" width="113" height="3.3" fill="#000" stroke="none"/>
<rect x="65.9" y="64.8" width="113" height="6.4" stroke-width="1.5"/>
<path d="M78.2 64.8V71.2M90.6 64.8V71.2M103.3 64.8V71.2M116 64.8V71.2M128.7 64.8V71.2M141.3 64.8V71.2M154 64.8V71.2M166.2 64.8V71.2" stroke-width="1.7"/>
<rect x="61.7" y="71.2" width="110.2" height="16.8" stroke-width="2.1"/>
<path d="M74.9 71.2V88M88.7 71.2V88M101.3 71.2V88M113.6 71.2V88M125.3 71.2V88M138 71.2V88M149.8 71.2V88M160.7 71.2V88" stroke-width="1.9"/>
<circle cx="69.2" cy="83" r="2.6" stroke-width="1.65"/>
<circle cx="81.6" cy="83" r="2.6" stroke-width="1.65"/>
<circle cx="95.1" cy="83" r="2.6" stroke-width="1.65"/>
<circle cx="107.7" cy="83" r="2.6" stroke-width="1.65"/>
<circle cx="119" cy="83" r="2.6" stroke-width="1.65"/>
<circle cx="133.3" cy="83" r="2.6" stroke-width="1.65"/>
<circle cx="144.7" cy="83" r="2.6" stroke-width="1.65"/>
<circle cx="156.1" cy="83" r="2.6" stroke-width="1.65"/>
<circle cx="166.8" cy="83" r="2.6" stroke-width="1.65"/>
</g>
<g fill="#fff" stroke="#0a0a0a" stroke-width="1.9" stroke-linejoin="round" stroke-linecap="round">
<path d="M120.3 56 L119.1 99.7 C118.6 106 118.3 113 119.1 118.7 C120 123 121.5 125 122.7 127.2 C124 130.5 125.2 133 126 135.8 C127 139 127.6 143 127.3 147 L127 154.1 L154.5 152.8 C153.6 149.5 153.4 147.5 153.9 145.6 C154.5 143 155.2 141 156.2 139 L161.4 129.9 C163 127 164 124.5 164.4 122 C165.3 118.5 165.6 116 165.4 112.8 C165.3 109.5 164.8 106.5 164 104.9 C163 102.5 161.8 101.3 160.8 101 L157.2 100.7 C157 98 156.5 96.7 155.5 95.4 C154.5 94 153.4 93.4 152.2 93.1 L148.6 93.5 L146.3 95.7 C146 92.5 145.3 91 144.4 89.8 C143.3 88.7 142 88.3 140.4 88.5 C139 88.8 138 89.2 137.2 89.8 L130.9 100.3 L128 56Z" stroke="none"/>
<path d="M120.3 57 L119.1 99.7 C118.6 106 118.3 113 119.1 118.7 C120 123 121.5 125 122.7 127.2 C124 130.5 125.2 133 126 135.8 C127 139 127.6 143 127.3 147 L127 154.1" fill="none"/>
<path d="M128 57 L130.4 92 L130.9 100.3 L133.9 95.7 L137.2 89.8 C138 89.2 139 88.6 140.4 88.5 C142 88.4 143.3 88.7 144.4 89.8 C145.5 91 146.1 93 146.3 95.1 C146.4 98 145.6 100.5 144.7 103.3" fill="none"/>
<path d="M146.3 95.7 C147 94.5 147.6 94 148.6 93.5 C149.8 93 151 92.9 152.2 93.1 C153.4 93.4 154.6 94.2 155.5 95.4 C156.4 96.6 156.8 98 156.8 99.7 C156.8 102 156 104.5 155.2 106.9" fill="none"/>
<path d="M157.2 100.7 C158.5 100.5 159.8 100.6 160.8 101 C162.2 101.8 163.2 103 164 104.9 C164.9 107 165.3 109.8 165.4 112.8 C165.5 116 165.2 119 164.4 122 C163.7 124.8 162.7 127.3 161.4 129.9 L156.2 139 C155.2 141 154.4 143 153.9 145.6 C153.5 148 153.8 150.5 154.5 152.8" fill="none"/>
<circle cx="123.9" cy="53.6" r="3.5" stroke-width="1.5"/>
<path d="M120.6 64.6 Q124 66.4 127.8 64.4" fill="none" stroke-width="1.3"/>
<path d="M122.2 81.4H126.6" fill="none" stroke-width="0.9"/><path d="M122.2 83.3H126.6" fill="none" stroke-width="1.5"/>
</g>
</g>
<path transform="translate(0 1539.3) scale(1 -1)" d="M224.4 19.6 C223.6 17 225.2 15.4 227.4 15.3 C229.4 15.3 230.4 16.6 230.9 18.3 C232.8 24.5 234.6 33 235.2 41.7 C235.6 49 233.5 58 230 65.6 C227.8 70.5 225 75 222.3 78.4 L231.4 81.2 L204.4 92.9 L216.9 67.2 L218.6 74.6 C220.8 71.5 222.8 68 224.2 64 C227 57 228.8 49 229 41.7 C229 35 227.2 27 224.4 19.6Z" fill="#fff" stroke="#0a0a0a" stroke-width="1.7" stroke-linejoin="miter"/>
<g transform="translate(150 1245) scale(0.09372)" fill="#fff" stroke="#0a0a0a" stroke-width="21" stroke-linejoin="round" stroke-linecap="round">
<path d="M-584 119L-478 152" stroke-width="46" fill="none"/>
<path d="M-478 152L-350 186" stroke-width="22" fill="none"/>
<path d="M-458 156L-430 164" stroke="#fff" stroke-width="9" fill="none"/>
<path d="M-341 130 L-241 105 L-186 80 L-71 115 Q-150 250 -81 410 L-136 380 L-256 350 L-321 285 Q-365 210 -341 130Z"/>
<path d="M-262 112 Q-325 225 -258 348" fill="none"/>
<path d="M-318 128 Q-345 205 -312 280" fill="none" stroke-width="13"/>
<path d="M-71 115 L-26 95 L98 135 L40 480 L-1 425 L-81 410 Q-150 250 -71 115Z"/>
<path d="M15 195 Q25 168 75 158 L185 100 L750 260 L735 310 L745 400 L790 515 L770 512 L600 560 L520 550 L390 565 L40 472 Q10 465 12 440 Z"/>
<path d="M180 128L645 256M95 160L600 290M55 182L565 318M20 272L520 400M20 432L520 550M392 545L598 560" fill="none" stroke-width="17"/>
<path d="M645 256L750 262M600 290L560 330L520 400V550M560 330L722 305M545 410L580 470L600 560M580 470L745 415M600 560L770 510" fill="none" stroke-width="17"/>
<path d="M520 400L545 410" fill="none" stroke-width="22"/>
<path d="M392 550 L400 600 L430 650 L400 640 L395 800 L430 815 L541 1216 L609 1236 L853 1328 L901 1312 L813 800 L800 700 L790 515 L770 512 L600 560Z"/>
<path d="M400 600 Q410 640 430 650 L580 700 L625 655 L590 562M530 560L580 700M440 690L450 790L430 815M450 740L700 775L725 780M600 560L650 660L725 780" fill="none" stroke-width="17"/>
<path d="M625 780L685 1288M712 782L829 1320" fill="none" stroke-width="17"/>
<path d="M770 620L756 720L765 800" fill="none" stroke-width="12"/>
<path d="M428 812 L462 806 L600 1232 L556 1220Z" fill="#0a0a0a" stroke-width="6"/>
<path d="M800 700 L813 800 L901 1312 L862 1325 L772 800 L762 730Z" fill="#0a0a0a" stroke-width="6"/>
</g>
<g transform="translate(170 1320) scale(0.07496)" fill="#fff" stroke="#0a0a0a" stroke-width="25" stroke-linejoin="round" stroke-linecap="round">
<path d="M205 615 Q195 625 195 650 L190 1130 L590 1240 L650 1240 L925 1135 L930 612 L860 600 L760 680 L500 560 L400 525 L215 592Z"/>
<path d="M205 622L600 722L680 745L760 680M232 618 L300 596 L420 604 L462 548M440 630L640 652L720 692L660 742M590 655L640 652" fill="none" stroke-width="17"/>
<path d="M300 596 Q420 612 462 548Z" fill="#fff" stroke-width="14"/>
<path d="M582 735L576 1232M650 762L646 1236" fill="none" stroke-width="18"/>
<path d="M680 745L930 655" fill="none" stroke-width="0"/>
<path d="M192 1125L585 1238" fill="none" stroke-width="38"/>
<path d="M650 1240L925 1135" fill="none" stroke-width="26"/>
<path d="M832 600L880 642L858 682" fill="none" stroke-width="18"/>
</g>
<g stroke="none" fill="#0a0a0a">
<path d="M30.7 1313 Q31 1308.5 36 1307.2 L72 1306.5 L84 1303.5 L88.5 1302.2 L90.2 1305.5 L88.6 1307 L112 1307 L113 1303 L116.5 1303 L117.8 1306 V1327.5 L116.5 1330.5 H113 L112 1326 L88.6 1325.5 L90.2 1328.5 L88.5 1331 L84 1329.5 L72 1326 L36 1325 Q31 1323.5 30.7 1319Z"/>
</g>
<g fill="#fff" stroke="none">
<path d="M33.5 1313.5L37 1309.8H40L38.5 1314.2ZM33.5 1318L37 1321.8H40L38.5 1317.5Z"/>
<path d="M41.5 1310L46.0 1309.6L47.0 1313.6L43.0 1314Z"/>
<path d="M43.0 1318.5L47.0 1318.2L46.0 1321.6L41.5 1322Z"/>
<path d="M50.5 1310L55.0 1309.6L56.0 1313.6L52.0 1314Z"/>
<path d="M52.0 1318.5L56.0 1318.2L55.0 1321.6L50.5 1322Z"/>
<path d="M59.5 1310L64.0 1309.6L65.0 1313.6L61.0 1314Z"/>
<path d="M61.0 1318.5L65.0 1318.2L64.0 1321.6L59.5 1322Z"/>
<path d="M68.5 1310L73.0 1309.6L74.0 1313.6L70.0 1314Z"/>
<path d="M70.0 1318.5L74.0 1318.2L73.0 1321.6L68.5 1322Z"/>
<rect x="76" y="1311" width="8" height="1.6"/><rect x="76" y="1319.5" width="8" height="1.6"/>
<rect x="87.6" y="1309.5" width="2.6" height="14"/>
<rect x="92.5" y="1308.8" width="4" height="1.3"/>
<rect x="96.5" y="1314.5" width="1.2" height="3.4"/><rect x="100" y="1314.5" width="1.2" height="3.4"/><rect x="103.3" y="1314.5" width="1.2" height="3.4"/>
<path d="M107.6 1311.5H113.3V1320.5H107.6Z"/>
</g>
<g>
<path d="M28 1359.8 L35.5 1356.2 L125.8 1367 L129.8 1365.5 L129 1377.3 L124.6 1375.2 L34.2 1363.7Z" fill="#0a0a0a"/>
<path d="M37.0 1356.2l1.5 -1.6l1.5 2ZM36.0 1363.8l1.5 1.6l1.5 -1.2ZM41.0 1356.7l1.5 -1.6l1.5 2ZM40.0 1364.3l1.5 1.6l1.5 -1.2ZM45.1 1357.2l1.5 -1.6l1.5 2ZM44.1 1364.8l1.5 1.6l1.5 -1.2ZM49.1 1357.7l1.5 -1.6l1.5 2ZM48.1 1365.3l1.5 1.6l1.5 -1.2ZM53.2 1358.1l1.5 -1.6l1.5 2ZM52.2 1365.7l1.5 1.6l1.5 -1.2ZM57.2 1358.6l1.5 -1.6l1.5 2ZM56.2 1366.2l1.5 1.6l1.5 -1.2ZM61.3 1359.1l1.5 -1.6l1.5 2ZM60.3 1366.7l1.5 1.6l1.5 -1.2ZM65.3 1359.6l1.5 -1.6l1.5 2ZM64.3 1367.2l1.5 1.6l1.5 -1.2ZM69.4 1360.1l1.5 -1.6l1.5 2ZM68.4 1367.7l1.5 1.6l1.5 -1.2ZM73.4 1360.6l1.5 -1.6l1.5 2ZM72.4 1368.2l1.5 1.6l1.5 -1.2ZM77.5 1361.1l1.5 -1.6l1.5 2ZM76.5 1368.7l1.5 1.6l1.5 -1.2ZM81.5 1361.5l1.5 -1.6l1.5 2ZM80.5 1369.1l1.5 1.6l1.5 -1.2ZM85.6 1362.0l1.5 -1.6l1.5 2ZM84.6 1369.6l1.5 1.6l1.5 -1.2ZM89.6 1362.5l1.5 -1.6l1.5 2ZM88.6 1370.1l1.5 1.6l1.5 -1.2ZM93.7 1363.0l1.5 -1.6l1.5 2ZM92.7 1370.6l1.5 1.6l1.5 -1.2ZM97.7 1363.5l1.5 -1.6l1.5 2ZM96.7 1371.1l1.5 1.6l1.5 -1.2ZM101.8 1364.0l1.5 -1.6l1.5 2ZM100.8 1371.6l1.5 1.6l1.5 -1.2ZM105.8 1364.5l1.5 -1.6l1.5 2ZM104.8 1372.1l1.5 1.6l1.5 -1.2ZM109.9 1364.9l1.5 -1.6l1.5 2ZM108.9 1372.5l1.5 1.6l1.5 -1.2ZM113.9 1365.4l1.5 -1.6l1.5 2ZM112.9 1373.0l1.5 1.6l1.5 -1.2ZM118.0 1365.9l1.5 -1.6l1.5 2ZM117.0 1373.5l1.5 1.6l1.5 -1.2ZM122.0 1366.4l1.5 -1.6l1.5 2ZM121.0 1374.0l1.5 1.6l1.5 -1.2Z" fill="#0a0a0a"/>
<path d="M125.6 1368.6 L128.3 1367.6 L127.8 1375 L125.2 1373.8Z" fill="#fff"/>
<path d="M30.5 1359.9L34.5 1358.3L34 1361.6Z" fill="#fff"/>
</g>
<text x="76.3" y="1349.8" font-size="14.5" font-weight="bold" textLength="15.6" lengthAdjust="spacingAndGlyphs" style="fill:#111">x2</text>
<text x="22.7" y="150.2" font-size="39.5" stroke="#000" stroke-width="0.5">A</text>
<text x="20.4" y="243" font-size="80">B</text>
<text x="21.0" y="1579.2" font-size="39.5" stroke="#000" stroke-width="0.5">C</text>
<text transform="translate(196.2 135.0) scale(0.955 1)" font-size="40.3" stroke="#000" stroke-width="0.55">OFF</text>
<text transform="translate(196.6 1560.8) scale(0.98 1)" font-size="40.3" stroke="#000" stroke-width="0.55">ON</text>
<text x="409.3" y="1518.2" font-size="19.5" stroke="#000" stroke-width="0.25">Instrukcja montażu / instalation instructions / Montageanleitung</text>
<text x="409.3" y="1543.3" font-size="19.5" stroke="#000" stroke-width="0.25">Lampa wisząca / Pendant lamp / Deckeleuchte</text>
</g>
</svg>
</body></html>
